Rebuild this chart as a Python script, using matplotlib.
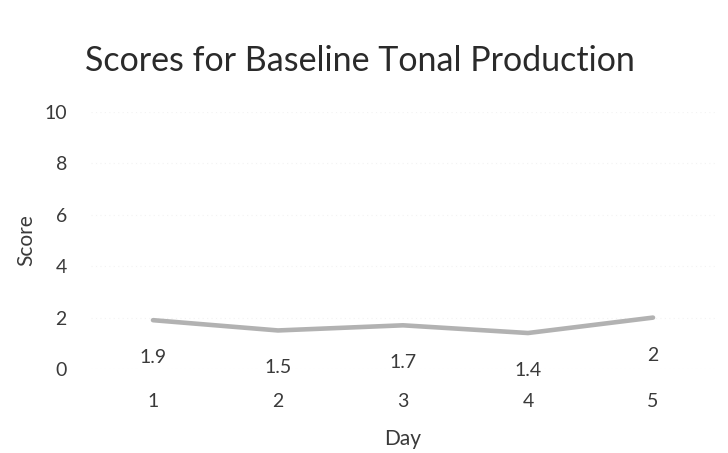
import matplotlib.pyplot as plt

days = [1, 2, 3, 4, 5]
scores = [1.9, 1.5, 1.7, 1.4, 2]
y_ticks = [0, 2, 4, 6, 8, 10]

plt.rcParams['font.family'] = ['Lato', 'DejaVu Sans']

fig = plt.figure(figsize=(7.28, 4.53), dpi=100)
ax = fig.add_axes([90.5 / 728, 1 - 369 / 453, 625 / 728, 257 / 453])

ax.plot(days, scores, color='#b2b2b2', linewidth=3.3, solid_capstyle='round')

# data labels sit under each point
for d, s in zip(days, scores):
    ax.annotate(str(s), (d, s), xytext=(0, -27), textcoords='offset points',
                ha='center', va='center', fontsize=14, color='#3a3a3a')

ax.set_xlim(0.5, 5.5)
ax.set_ylim(0, 10)
ax.set_xticks(days)
ax.set_yticks(y_ticks)
ax.tick_params(length=0, labelsize=14, labelcolor='#3a3a3a')
ax.tick_params(axis='x', pad=17)
ax.tick_params(axis='y', pad=17)
for sp in ax.spines.values():
    sp.set_visible(False)
ax.grid(axis='y', color='#f3f3f3', linewidth=0.8, linestyle=(0, (1, 3)))
ax.set_axisbelow(True)

ax.set_xlabel('Day', fontsize=15, color='#3a3a3a', labelpad=14)
ax.set_ylabel('Score', fontsize=15, color='#3a3a3a', labelpad=6)
fig.text(0.494, 0.866, 'Scores for Baseline Tonal Production', ha='center', va='center',
         fontsize=24.5, color='#2a2a2a')

fig.savefig('out.png', dpi=100)
